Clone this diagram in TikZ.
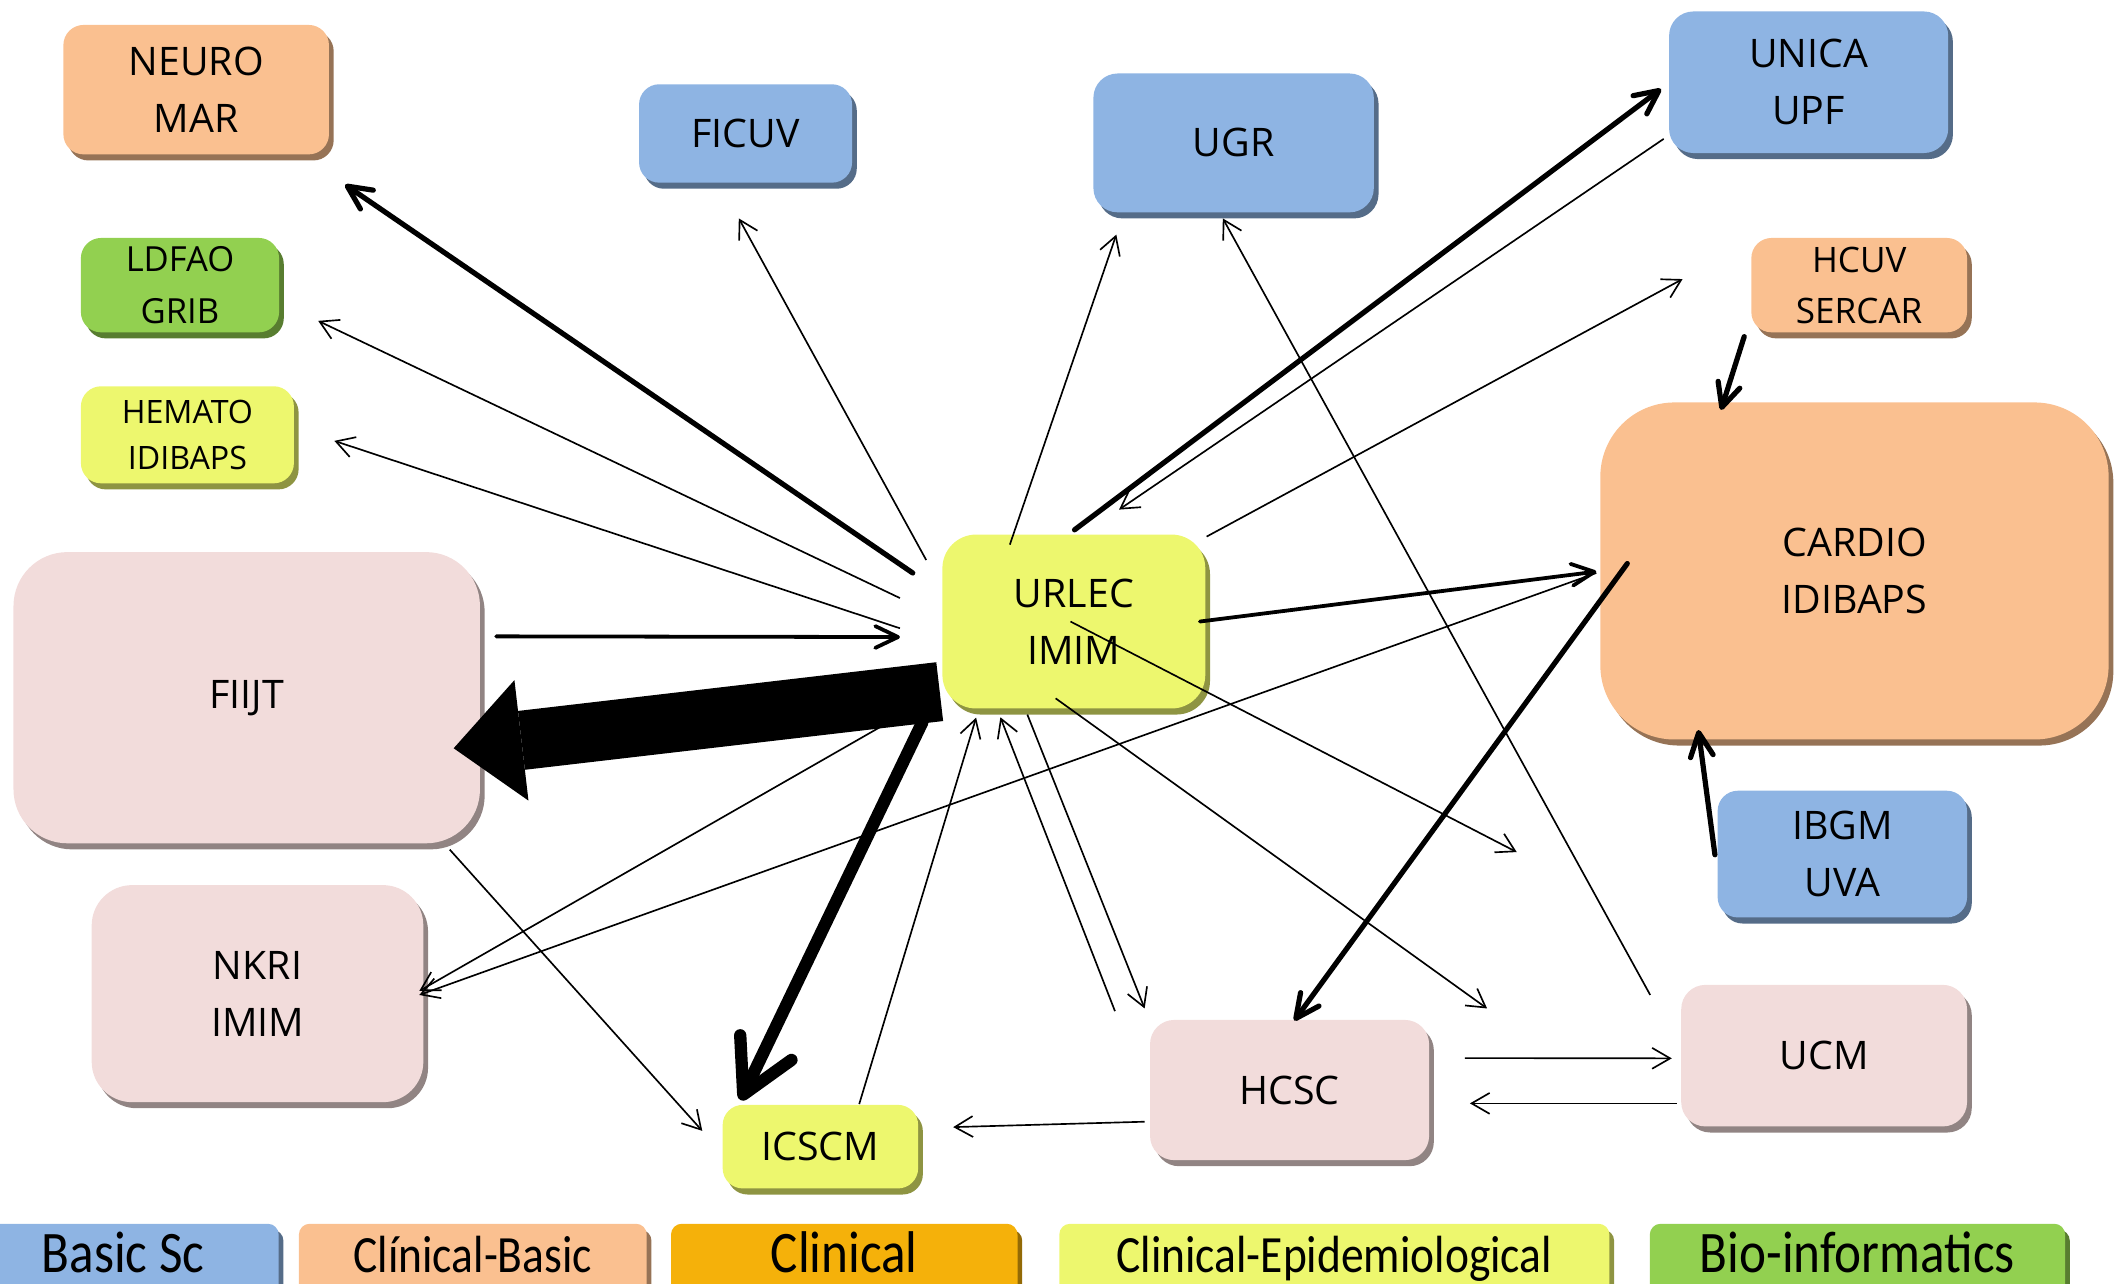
\documentclass[tikz,border=0pt]{standalone}
\usepackage{graphicx}
\usepackage{fontspec}
\setmainfont{Open Sans}
\newfontfamily\legendfont{Carlito}
\usetikzlibrary{arrows.meta,shadows}

\definecolor{basicblue}{RGB}{142,180,227}
\definecolor{clinbasic}{RGB}{250,192,144}
\definecolor{clinorange}{RGB}{245,177,10}
\definecolor{clinepi}{RGB}{237,247,110}
\definecolor{bioinf}{RGB}{146,208,80}
\definecolor{unitpink}{RGB}{242,220,219}

\newcommand\tall[1]{\scalebox{1}[1.15]{#1}}

\tikzset{
  unit/.style={fill=#1, rounded corners=1.5mm, align=center, inner sep=0pt,
    font=\fontsize{8.3}{12}\selectfont,
    drop shadow={shadow xshift=0.35mm, shadow yshift=-0.45mm, fill=#1!60!black, opacity=1}},
  key/.style={unit=#1, anchor=north west, minimum height=5.3mm, rounded corners=0.8mm,
    text height=2mm, text depth=0pt, font=\legendfont\fontsize{9.6}{12}\selectfont},
  bigkey/.style={key=#1, font=\legendfont\fontsize{10.8}{12}\selectfont},
  weak/.style={line width=0.35pt, -{Straight Barb[length=3.8pt,width=4.4pt]}},
  mid/.style={line width=0.8pt, line cap=round, -{Straight Barb[round,length=4.8pt,width=4.6pt]}},
  strong/.style={line width=1.1pt, line cap=round, -{Straight Barb[round,length=5pt,width=4.8pt]}},
  heavy/.style={line width=2.6pt, line cap=round, -{Straight Barb[round,length=11pt,width=12pt]}},
  huge/.style={line width=12.5pt, -{Triangle[length=14.4pt,width=25.6pt,line width=0pt]}}
}

\begin{document}
\begin{tikzpicture}[x=0.1mm, y=-0.1mm]
\useasboundingbox (0,0) rectangle (1568,952);

% groups
\node[unit=clinbasic, minimum width=19.7mm, minimum height=9.6mm] (neuro) at (145.5,66.5) {NEURO\\MAR};
\node[unit=basicblue, minimum width=15.8mm, minimum height=7.3mm] (ficuv) at (553,99) {FICUV};
\node[unit=basicblue, minimum width=20.8mm, minimum height=10.3mm, rounded corners=1.8mm] (ugr) at (915,106) {UGR};
\node[unit=basicblue, minimum width=20.7mm, minimum height=10.5mm, rounded corners=1.8mm] (unica) at (1341.5,61) {UNICA\\UPF};
\node[unit=bioinf, minimum width=14.7mm, minimum height=7mm, font=\fontsize{7.3}{10.8}\selectfont] (ldfao) at (133.5,211.5) {LDFAO\\GRIB};
\node[unit=clinbasic, minimum width=16mm, minimum height=7mm, font=\fontsize{7.4}{10.8}\selectfont] (hcuv) at (1379,211.5) {HCUV\\SERCAR};
\node[unit=clinepi, minimum width=15.8mm, minimum height=7.2mm, font=\fontsize{6.8}{9.7}\selectfont] (hemato) at (139,322.5) {HEMATO\\IDIBAPS};
\node[unit=clinbasic, minimum width=37.7mm, minimum height=25mm, rounded corners=5.5mm] (cardio) at (1375.5,423.5) {CARDIO\\IDIBAPS};
\node[unit=unitpink, minimum width=34.6mm, minimum height=21.6mm, rounded corners=4mm] (fiijt) at (183,517.5) {FIIJT};
\node[unit=clinepi, minimum width=19.5mm, minimum height=12.9mm, rounded corners=2.5mm] (urlec) at (796.5,461) {URLEC\\IMIM};
\node[unit=basicblue, minimum width=18.5mm, minimum height=9.4mm] (ibgm) at (1366.5,633.5) {IBGM\\UVA};
\node[unit=unitpink, minimum width=24.6mm, minimum height=16.1mm, rounded corners=3mm] (nkri) at (191,737) {NKRI\\IMIM};
\node[unit=unitpink, minimum width=20.7mm, minimum height=10.4mm, rounded corners=1.8mm] (hcsc) at (956.5,808.5) {HCSC};
\node[unit=unitpink, minimum width=21.2mm, minimum height=10.5mm, rounded corners=1.8mm] (ucm) at (1353,783) {UCM};
\node[unit=clinepi, minimum width=14.5mm, minimum height=6.2mm] (icscm) at (608.5,850.5) {ICSCM};

\coordinate (loose1) at (1125,632);
\coordinate (loose2) at (1103,748);

% legend
\node[bigkey=basicblue, minimum width=23.1mm] (kbasic) at (-25,907) {\tall{Basic Sc}};
\node[key=clinbasic, minimum width=25.8mm] (kclinbasic) at (221,907) {\tall{Clínical-Basic}};
\node[bigkey=clinorange, minimum width=25.7mm] (kclinical) at (497,907) {\tall{Clinical}};
\node[key=clinepi, minimum width=40.8mm] (kepi) at (785,907) {\tall{Clinical-Epidemiological}};
\node[bigkey=bioinf, minimum width=30.8mm] (kbio) at (1223,907) {\tall{Bio-informatics}};

% single links
\draw[weak] ([shift={(-109.5,-45.6)}]urlec.center) -- ([shift={(-5,63)}]ficuv.center);
\draw[weak] ([shift={(-47.5,-57)}]urlec.center) -- ([shift={(-87,68)}]ugr.center);
\draw[weak] ([shift={(-129,-45)}]ucm.center) -- ([shift={(-8,56)}]ugr.center);
\draw[weak] ([shift={(-107.5,42)}]unica.center) -- ([shift={(33.5,-83)}]urlec.center);
\draw[weak] ([shift={(98.5,-63)}]urlec.center) -- ([shift={(-131,-4.5)}]hcuv.center);
\draw[weak] ([shift={(-129,-17.4)}]urlec.center) -- ([shift={(102.5,26.5)}]ldfao.center);
\draw[weak] ([shift={(-129,5)}]urlec.center) -- ([shift={(109,4.5)}]hemato.center);
\draw[weak] ([shift={(-2.5,0)}]urlec.center) -- (loose1);
\draw[weak] ([shift={(-13.5,57)}]urlec.center) -- (loose2);
\draw[weak] ([shift={(-34.5,69)}]urlec.center) -- ([shift={(-107.5,-60.5)}]hcsc.center);
\draw[weak] ([shift={(-129.5,-58.5)}]hcsc.center) -- ([shift={(-54.5,71)}]urlec.center);
\draw[weak] ([shift={(28.8,-31.6)}]icscm.center) -- ([shift={(-72.5,71.3)}]urlec.center);
\draw[weak] ([shift={(150.6,112.7)}]fiijt.center) -- ([shift={(-87.6,-11.7)}]icscm.center);
\draw[weak] ([shift={(-99.5,53)}]urlec.center) -- ([shift={(120,-2)}]nkri.center);
\draw[weak] ([shift={(-191.5,1.5)}]cardio.center) -- ([shift={(120,1)}]nkri.center);
\draw[weak] ([shift={(-107.5,23.5)}]hcsc.center) -- ([shift={(98.5,-14.5)}]icscm.center);
\draw[weak] ([shift={(130,-23.7)}]hcsc.center) -- ([shift={(-113,2)}]ucm.center);
\draw[weak] ([shift={(-109.4,35.4)}]ucm.center) -- ([shift={(133.8,9.9)}]hcsc.center);

% stronger links
\draw[mid] ([shift={(185,-45.5)}]fiijt.center) -- ([shift={(-129,11.5)}]urlec.center);
\draw[mid] ([shift={(93.5,0)}]urlec.center) -- ([shift={(-191.5,0.5)}]cardio.center);
\draw[strong] ([shift={(-119.5,-36)}]urlec.center) -- ([shift={(110.5,70.5)}]neuro.center);
\draw[strong] ([shift={(0.5,-68)}]urlec.center) -- ([shift={(-109.5,5)}]unica.center);
\draw[strong] ([shift={(-168.5,-5.5)}]cardio.center) -- ([shift={(3.5,-51.5)}]hcsc.center);
\draw[strong] ([shift={(-85.3,38.2)}]hcuv.center) -- ([shift={(-99,-119.5)}]cardio.center);
\draw[strong] ([shift={(-94.5,0.5)}]ibgm.center) -- ([shift={(-115.8,118)}]cardio.center);
\draw[heavy] ([shift={(-112.5,75)}]urlec.center) -- ([shift={(-59.2,-34.5)}]icscm.center);
\draw[huge] ([shift={(-99.5,52)}]urlec.center) -- ([shift={(153.5,37.5)}]fiijt.center);
\end{tikzpicture}
\end{document}
